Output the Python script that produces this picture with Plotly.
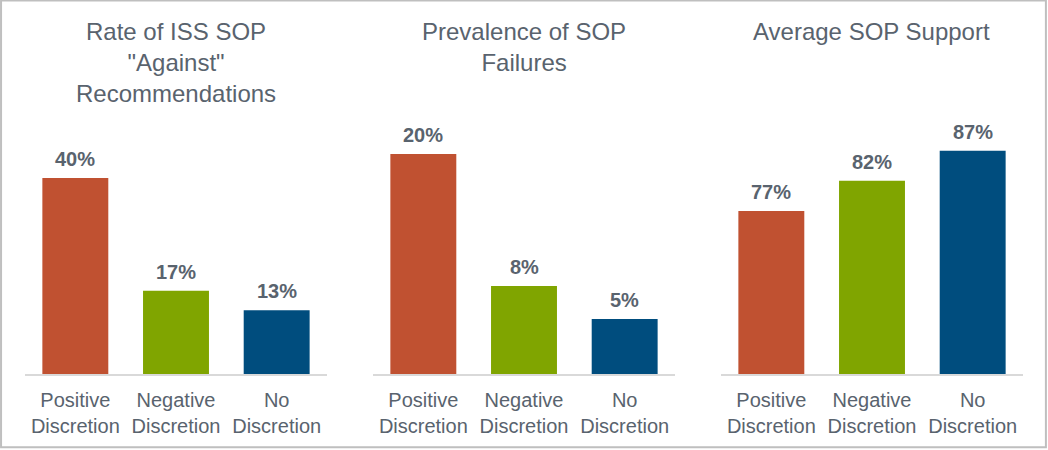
import plotly.graph_objects as go

categories = ["Positive<br>Discretion", "Negative<br>Discretion", "No<br>Discretion"]
titles = ["Rate of ISS SOP<br>\"Against\"<br>Recommendations", "Prevalence of SOP<br>Failures", "Average SOP Support"]
against_rate = [0.40, 0.17, 0.13]
failure_rate = [0.20, 0.08, 0.05]
avg_support = [0.77, 0.82, 0.87]
series = [against_rate, failure_rate, avg_support]
y_ranges = [[0, 0.559], [0, 0.249], [0.5, 0.954]]
bar_colors = ["#C05131", "#80A500", "#004D7E"]

W, H = 1048, 450
x_domains = [[25 / W, 327 / W], [373 / W, 675 / W], [721 / W, 1023 / W]]
y_domain = [(H - 374) / H, (H - 100) / H]

text_color = "#59636E"
font_family = "Liberation Sans, Arial, sans-serif"

fig = go.Figure()
annotations = []
for i, vals in enumerate(series):
    sfx = "" if i == 0 else str(i + 1)
    fig.add_trace(go.Bar(
        x=categories, y=vals,
        marker=dict(color=bar_colors, line=dict(width=0)),
        xaxis="x" + sfx, yaxis="y" + sfx,
        showlegend=False, hoverinfo="skip",
    ))
    for c, v in zip(categories, vals):
        annotations.append(dict(
            x=c, y=v, xref="x" + sfx, yref="y" + sfx,
            text=f"<b>{v:.0%}</b>", showarrow=False,
            yanchor="bottom", yshift=6,
            font=dict(size=20, color=text_color, family=font_family),
        ))
    annotations.append(dict(
        x=(x_domains[i][0] + x_domains[i][1]) / 2, y=(H - 16) / H,
        xref="paper", yref="paper", xanchor="center", yanchor="top",
        text=titles[i], showarrow=False,
        font=dict(size=24, color=text_color, family=font_family),
    ))

layout = dict(
    width=W, height=H,
    margin=dict(l=0, r=0, t=0, b=0),
    paper_bgcolor="white", plot_bgcolor="white",
    bargap=0.345,
    annotations=annotations,
    shapes=[dict(type="rect", xref="paper", yref="paper", x0=0.001, x1=0.998, y0=0.006, y1=0.999,
                 line=dict(color="#BFBFBF", width=2))],
    font=dict(family=font_family, color=text_color),
)
for i in range(3):
    sfx = "" if i == 0 else str(i + 1)
    layout["xaxis" + sfx] = dict(
        domain=x_domains[i], anchor="y" + sfx,
        showline=True, linecolor="#D9D9D9", linewidth=2,
        showgrid=False, ticks="", ticklabelstandoff=7,
        tickfont=dict(size=20, color=text_color, family=font_family),
        fixedrange=True,
    )
    layout["yaxis" + sfx] = dict(
        domain=y_domain, anchor="x" + sfx, range=y_ranges[i],
        showgrid=False, showticklabels=False, zeroline=False, showline=False,
        fixedrange=True,
    )
fig.update_layout(**layout)
fig.write_html("out.html", config={"displayModeBar": False},
               post_script="document.body.style.margin='0';document.body.style.overflow='hidden';")
